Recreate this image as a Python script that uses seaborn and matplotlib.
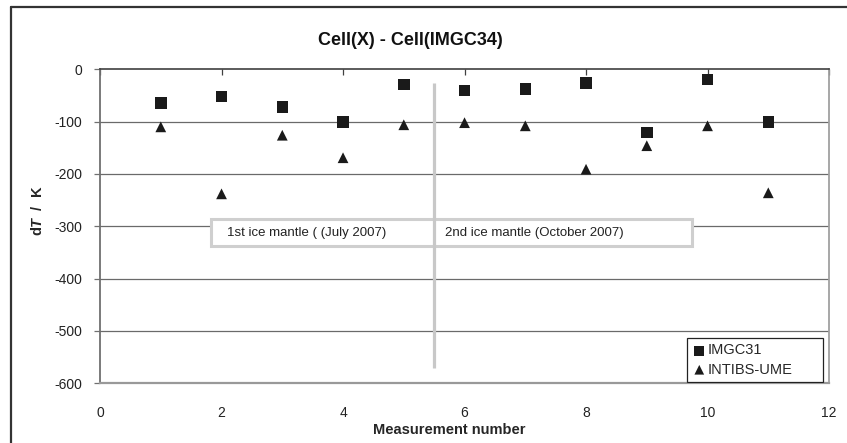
import matplotlib
matplotlib.use("Agg")
import matplotlib.pyplot as plt
import seaborn as sns
import pandas as pd
from matplotlib.patches import Rectangle
from matplotlib.lines import Line2D

measurement = [1, 2, 3, 4, 5, 6, 7, 8, 9, 10, 11]
imgc31 = [-64, -52, -72, -101, -29, -41, -38, -26, -121, -20, -101]
intibs_ume = [-110, -238, -126, -169, -106, -102, -108, -191, -146, -108, -236]
series_names = ["IMGC31", "INTIBS-UME"]
title = "Cell(X) - Cell(IMGC34)"
xlabel = "Measurement number"
ylabel = r"d$\mathit{T}$  /  K"
box_texts = ["1st ice mantle ( (July 2007)", "2nd ice mantle (October 2007)"]

sns.set_theme(style="white")
plt.rcParams["font.family"] = ["Liberation Sans", "DejaVu Sans"]
plt.rcParams["axes.unicode_minus"] = False
plt.rcParams["mathtext.fontset"] = "custom"
plt.rcParams["mathtext.rm"] = "Liberation Sans:bold"
plt.rcParams["mathtext.it"] = "Liberation Sans:italic:bold"
plt.rcParams["mathtext.bf"] = "Liberation Sans:bold"

fig = plt.figure(figsize=(8.47, 4.43), dpi=100)
ax = fig.add_axes([0.1181, 0.1348, 0.8607, 0.7088])

df = pd.DataFrame({"x": measurement, "a": imgc31, "b": intibs_ume})
sns.scatterplot(data=df, x="x", y="a", marker="s", s=68, color="#1a1a1a",
                edgecolor="none", ax=ax, zorder=5, label=series_names[0])
sns.scatterplot(data=df, x="x", y="b", marker="^", s=60, color="#1a1a1a",
                edgecolor="none", ax=ax, zorder=5, label=series_names[1])

ax.set_xlim(0, 12)
ax.set_ylim(-600, 0)
ax.set_xticks(range(0, 13, 2))
ax.set_yticks(range(-600, 1, 100))

# gridlines
for yv in range(-500, 0, 100):
    ax.axhline(yv, color="#6a6a6a", lw=0.9, zorder=1)

# spines
ax.spines["top"].set_color("#404040")
ax.spines["top"].set_linewidth(1.2)
ax.spines["left"].set_color("#707070")
ax.spines["left"].set_linewidth(1.3)
ax.spines["bottom"].set_color("#999999")
ax.spines["bottom"].set_linewidth(1.6)
ax.spines["right"].set_color("#a0a0a0")
ax.spines["right"].set_linewidth(1.3)

ax.tick_params(axis="x", bottom=False, top=True, direction="in", length=4,
               width=0.9, color="#404040", labelsize=10, pad=16,
               labelcolor="#222222")
ax.tick_params(axis="y", left=True, direction="out", length=4, width=0.9,
               color="#707070", labelsize=10, pad=9, labelcolor="#222222")

# annotation box
rect = Rectangle((1.83, -337), 9.75 - 1.83, 50, facecolor="white",
                 edgecolor="#cfcfcf", lw=2.2, zorder=2)
ax.add_patch(rect)
ax.text(2.09, -312, box_texts[0], fontsize=9.5, va="center", ha="left",
        color="#222222", zorder=3)
ax.text(5.68, -312, box_texts[1], fontsize=9.5, va="center", ha="left",
        color="#222222", zorder=3)
ax.plot([5.5, 5.5], [-26, -571], color="#c8c8c8", lw=2.3, zorder=4,
        solid_capstyle="butt")

ax.set_xlabel(xlabel, fontsize=10.5, fontweight="bold")
ax.xaxis.set_label_coords(5.75 / 12, -0.125)
ax.xaxis.label.set_va("top")
ax.set_ylabel(ylabel, fontsize=10.5, fontweight="bold")
ax.yaxis.set_label_coords(-0.076, 0.55)

fig.text(0.484, 0.908, title, fontsize=13, fontweight="bold",
         ha="center", va="center", color="#111111")

# legend frame (Excel-style, wide right padding)
legframe = Rectangle((0.805, 0.004), 0.187, 0.140, transform=ax.transAxes,
                     facecolor="white", edgecolor="#222222", lw=0.9, zorder=9)
ax.add_patch(legframe)
leg = ax.legend(loc="center left", bbox_to_anchor=(0.805, 0.074),
                borderaxespad=0, frameon=False, fontsize=10.5,
                handletextpad=0.1, handlelength=1.0, borderpad=0.35,
                labelspacing=0.35, markerscale=0.9)
leg.set_zorder(10)

# outer border
fig.add_artist(Line2D([10.5 / 847, 1.0], [1 - 7 / 443, 1 - 7 / 443],
                      transform=fig.transFigure, color="#333333", lw=1.6))
fig.add_artist(Line2D([10.5 / 847, 10.5 / 847], [0, 1 - 7 / 443],
                      transform=fig.transFigure, color="#333333", lw=1.6))

fig.savefig("out.png", dpi=100)
